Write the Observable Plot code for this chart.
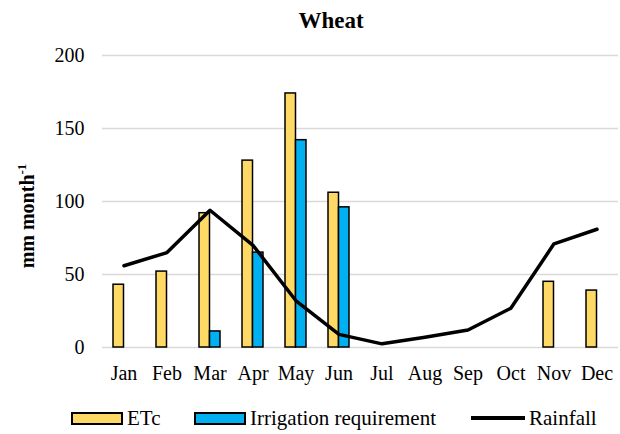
<!DOCTYPE html>
<html>
<head>
<meta charset="utf-8">
<script src="https://cdn.jsdelivr.net/npm/d3@7"></script>
<script src="https://cdn.jsdelivr.net/npm/@observablehq/plot@0.6"></script>
<style>
  html, body { margin: 0; padding: 0; background: #fff; }
  body, div, svg, svg text { font-family: "Liberation Serif", serif !important; }
  body { width: 620px; height: 434px; color: #000; }
  #title { height: 40px; line-height: 42px; text-align: center; font-weight: bold; font-size: 23px; padding-left: 42px; }
  #chart { height: 360px; }
  #legend { position: relative; height: 34px; font-size: 21px; }
  .item { position: absolute; top: 0; height: 36px; display: flex; align-items: center; }
  .sw { width: 48px; height: 9px; border: 2px solid #000; margin-right: 4px; }
  .ln { width: 54px; height: 0; border-top: 4px solid #000; margin-right: 4px; }
</style>
</head>
<body>
<div id="title">Wheat</div>
<div id="chart"></div>
<div id="legend">
  <div class="item" style="left:71px"><div class="sw" style="background:#FFD966"></div>ETc</div>
  <div class="item" style="left:194px"><div class="sw" style="background:#00B0F0"></div>Irrigation requirement</div>
  <div class="item" style="left:471px"><div class="ln"></div>Rainfall</div>
</div>
<script>
const months = ["Jan","Feb","Mar","Apr","May","Jun","Jul","Aug","Sep","Oct","Nov","Dec"];
const etc = [43, 52, 92, 128, 174, 106, null, null, null, null, 45, 39];
const irrigation = [null, null, 11, 65, 142, 96, null, null, null, null, null, null];
const rainfall = [56, 65, 94, 70, 32, 9, 2.5, 7, 12, 27, 71, 81];
const yTicks = [0, 50, 100, 150, 200];

const etcData = months.map((m, i) => ({month: m, value: etc[i]})).filter(d => d.value != null);
const irrData = months.map((m, i) => ({month: m, value: irrigation[i]})).filter(d => d.value != null);
const rainData = months.map((m, i) => ({month: m, value: rainfall[i]}));

const plot = Plot.plot({
  width: 620,
  height: 360,
  marginTop: 15,
  marginBottom: 53,
  marginLeft: 102,
  marginRight: 2,
  style: {fontFamily: "Liberation Serif", fontSize: "20px", color: "#000", background: "#fff"},
  x: {domain: months, padding: 0, label: null, tickSize: 0, tickPadding: 18},
  y: {domain: [0, 200], ticks: yTicks, label: null, tickSize: 0, tickPadding: 18},
  marks: [
    Plot.gridY(yTicks, {stroke: "#D9D9D9", strokeOpacity: 1, strokeWidth: 1.5}),
    Plot.barY(etcData, {x: "month", y: "value", fill: "#FFD966", stroke: "#000", strokeWidth: 1.5, insetLeft: 11, insetRight: 21.5}),
    Plot.barY(irrData, {x: "month", y: "value", fill: "#00B0F0", stroke: "#000", strokeWidth: 1.5, insetLeft: 21.5, insetRight: 11}),
    Plot.lineY(rainData, {x: "month", y: "value", stroke: "#000", strokeWidth: 3.5, strokeLinejoin: "round"})
  ]
});
document.getElementById("chart").appendChild(plot);

// y-axis title with superscript
const svg = d3.select(plot);
const t = svg.append("text")
  .attr("transform", "translate(34,176) rotate(-90)")
  .attr("text-anchor", "middle")
  .attr("font-weight", "bold")
  .attr("font-size", "20px")
  .attr("fill", "#000");
t.append("tspan").text("mm month");
t.append("tspan").attr("font-size", "13px").attr("dy", "-8").text("-1");
</script>
</body>
</html>
